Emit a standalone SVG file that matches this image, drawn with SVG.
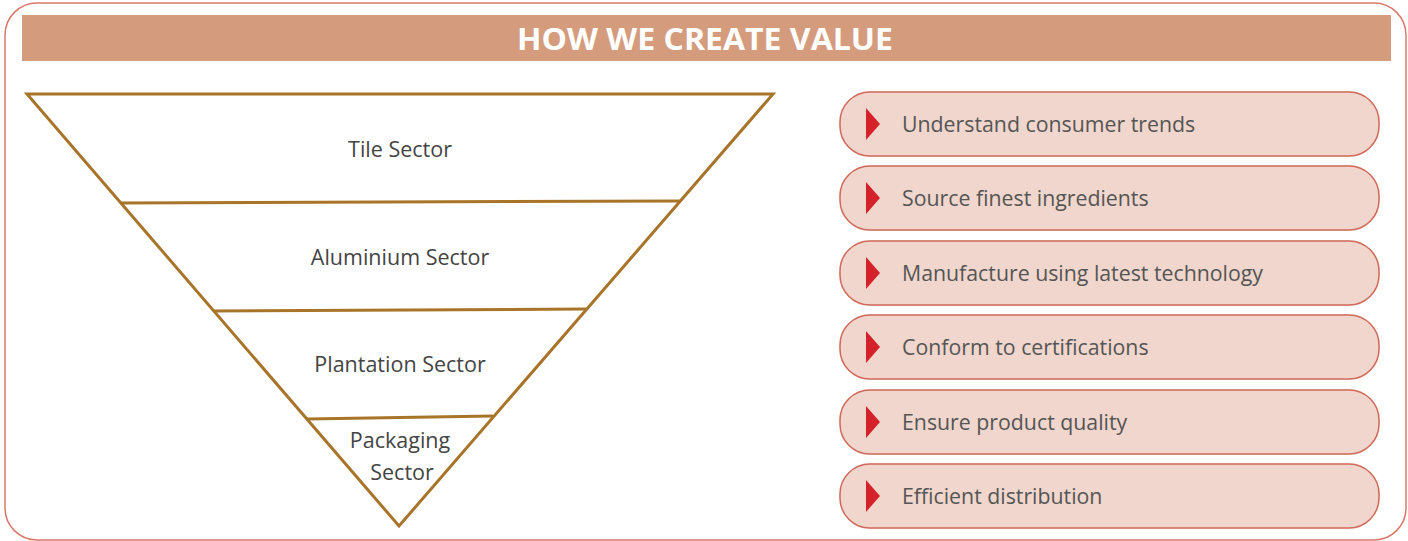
<svg xmlns="http://www.w3.org/2000/svg" width="1408" height="541" viewBox="0 0 1408 541">
  <style>
    .frame { fill: #ffffff; stroke: #d9786a; stroke-width: 1.5; }
    .header { fill: #d59b7d; }
    .title { font-family: "Open Sans", "DejaVu Sans", sans-serif; font-weight: bold; font-size: 30px; fill: #ffffff; text-anchor: middle; }
    .funnel { fill: none; stroke: #a8742a; stroke-width: 3; stroke-linejoin: miter; }
    .sector { font-family: "Open Sans", "Noto Sans", sans-serif; font-size: 21.5px; fill: #444444; text-anchor: middle; }
    .pill { fill: #f0d6cc; stroke: #d06a5a; stroke-width: 1.5; filter: url(#glow); }
    .mark { fill: #d4222a; }
    .step { font-family: "Open Sans", "Noto Sans", sans-serif; font-size: 21.3px; fill: #555555; }
  </style>
  <defs>
    <filter id="glow" x="-5%" y="-20%" width="110%" height="140%">
      <feGaussianBlur in="SourceAlpha" stdDeviation="2"/>
      <feFlood flood-color="#e8a090" flood-opacity="0.35"/>
      <feComposite operator="in" in2="SourceAlpha"/>
      <feMerge>
        <feMergeNode/>
        <feMergeNode in="SourceGraphic"/>
      </feMerge>
    </filter>
  </defs>

  <!-- outer card -->
  <rect class="frame" x="5" y="3" width="1401" height="537" rx="32" ry="32"/>

  <!-- header band -->
  <g id="header">
    <rect class="header" x="22" y="15" width="1369" height="46"/>
    <text class="title" x="705" y="50" textLength="376" lengthAdjust="spacingAndGlyphs">HOW WE CREATE VALUE</text>
  </g>

  <!-- inverted funnel -->
  <g id="funnel">
    <polygon class="funnel" points="27,94 773,94 399,526"/>
    <line class="funnel" x1="121" y1="203" x2="680" y2="201"/>
    <line class="funnel" x1="214" y1="311" x2="586" y2="309"/>
    <line class="funnel" x1="307" y1="419" x2="493" y2="416"/>
  </g>
  <g id="tile-sector"><text class="sector" x="400" y="157">Tile Sector</text></g>
  <g id="aluminium-sector"><text class="sector" x="400" y="265">Aluminium Sector</text></g>
  <g id="plantation-sector"><text class="sector" x="400" y="372">Plantation Sector</text></g>
  <g id="packaging-sector">
    <text class="sector" x="400" y="448">Packaging</text>
    <text class="sector" x="402" y="480">Sector</text>
  </g>

  <!-- value chain steps -->
  <g id="step-1">
    <rect class="pill" x="840" y="92" width="539" height="64" rx="30" ry="30"/>
    <polygon class="mark" points="866,108 880,124 866,140"/>
    <text class="step" x="902" y="132">Understand consumer trends</text>
  </g>
  <g id="step-2">
    <rect class="pill" x="840" y="166" width="539" height="64" rx="30" ry="30"/>
    <polygon class="mark" points="866,182 880,198 866,214"/>
    <text class="step" x="902" y="206">Source finest ingredients</text>
  </g>
  <g id="step-3">
    <rect class="pill" x="840" y="241" width="539" height="64" rx="30" ry="30"/>
    <polygon class="mark" points="866,257 880,273 866,289"/>
    <text class="step" x="902" y="281">Manufacture using latest technology</text>
  </g>
  <g id="step-4">
    <rect class="pill" x="840" y="315" width="539" height="64" rx="30" ry="30"/>
    <polygon class="mark" points="866,331 880,347 866,363"/>
    <text class="step" x="902" y="355">Conform to certifications</text>
  </g>
  <g id="step-5">
    <rect class="pill" x="840" y="390" width="539" height="64" rx="30" ry="30"/>
    <polygon class="mark" points="866,406 880,422 866,438"/>
    <text class="step" x="902" y="430">Ensure product quality</text>
  </g>
  <g id="step-6">
    <rect class="pill" x="840" y="464" width="539" height="64" rx="30" ry="30"/>
    <polygon class="mark" points="866,480 880,496 866,512"/>
    <text class="step" x="902" y="504">Efficient distribution</text>
  </g>

  <!-- no connectors between nodes -->
  <g id="connectors"/>
</svg>
